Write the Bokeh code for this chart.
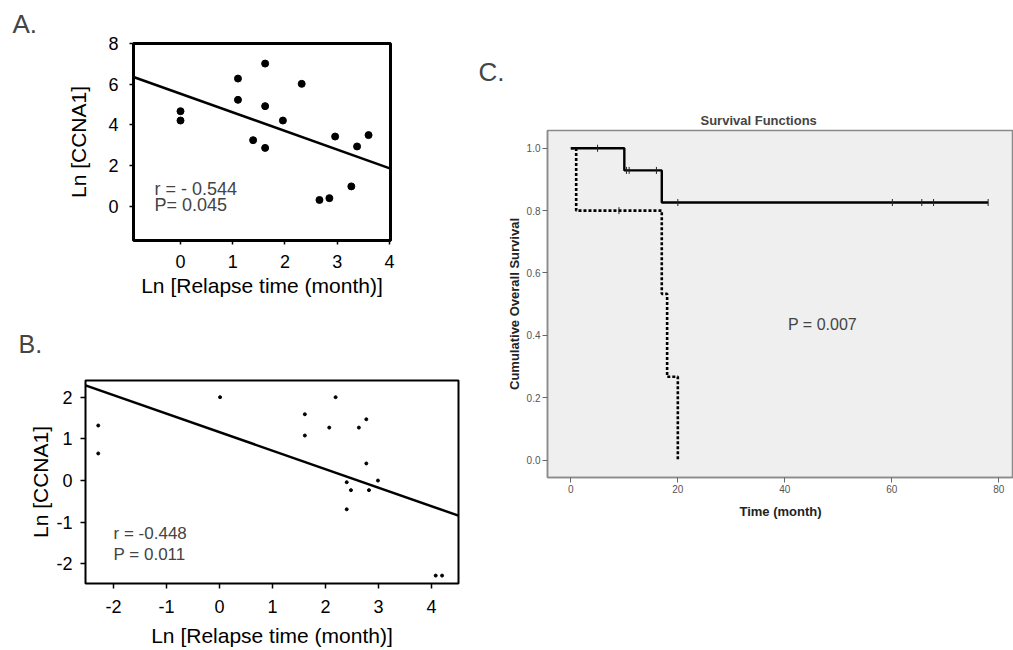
from bokeh.plotting import figure
from bokeh.models import Range1d, FixedTicker, Label, Title
from bokeh.layouts import row, column
from bokeh.embed import file_html
from bokeh.resources import INLINE

# ---------------- data ----------------
# Panel A: Ln relapse time vs Ln CCNA1
a_x = [0.0, 0.0, 1.10, 1.10, 1.62, 1.62, 1.62, 1.39, 1.96, 2.32, 2.66, 2.85, 3.27, 2.96, 3.38, 3.60]
a_y = [4.68, 4.22, 6.29, 5.24, 7.03, 4.93, 2.87, 3.25, 4.22, 6.03, 0.30, 0.39, 0.97, 3.43, 2.94, 3.50]
a_slope = -0.918
a_intercept = 5.54
a_xticks = [0, 1, 2, 3, 4]
a_yticks = [0, 2, 4, 6, 8]
a_stats = ["r = - 0.544", "P= 0.045"]

# Panel B
b_x = [-2.29, -2.29, 0.01, 1.61, 1.61, 2.07, 2.19, 2.63, 2.77, 2.77, 2.40, 2.48, 2.40, 2.99, 2.82, 4.08, 4.20]
b_y = [1.32, 0.65, 2.00, 1.59, 1.08, 1.27, 2.00, 1.27, 1.47, 0.41, -0.04, -0.23, -0.69, 0.00, -0.23, -2.28, -2.28]
b_slope = -0.444
b_intercept = 1.16
b_xticks = [-2, -1, 0, 1, 2, 3, 4]
b_xticklabels = ["-2", "-1", "0", "1", "2", "3", "4"]
b_yticks = [-2, -1, 0, 1, 2]
b_yticklabels = ["-2", "-1", "0", "1", "2"]
b_stats = ["r = -0.448", "P = 0.011"]

# Panel C: Kaplan-Meier survival
km_solid_t = [0, 10, 17, 78]
km_solid_s = [1.0, 0.929, 0.826, 0.826]
km_solid_cens = [5.0, 10.4, 10.9, 16.0, 20.0, 60.1, 65.6, 67.8, 78.0]
km_dash_t = [0, 1, 17, 18, 20]
km_dash_s = [1.0, 0.8, 0.533, 0.267, 0.0]
km_dash_cens = [9.0]
c_xticks = [0, 20, 40, 60, 80]
c_yticks = [0.0, 0.2, 0.4, 0.6, 0.8, 1.0]
c_yticklabels = ["0.0", "0.2", "0.4", "0.6", "0.8", "1.0"]
c_pvalue = "P = 0.007"

FONT = "Liberation Sans"


def step_value(ts, ss, t):
    v = ss[0]
    for ti, si in zip(ts, ss):
        if ti <= t:
            v = si
    return v


def style_axes(p, tick_size, label_size, tick_out, lab_stand, ax_stand_x, ax_stand_y):
    for ax in (p.xaxis[0], p.yaxis[0]):
        ax.major_label_text_font = FONT
        ax.major_label_text_font_size = tick_size
        ax.major_label_text_color = "black"
        ax.axis_label_text_font = FONT
        ax.axis_label_text_font_size = label_size
        ax.axis_label_text_font_style = "normal"
        ax.axis_label_text_color = "black"
        ax.major_tick_out = tick_out
        ax.major_tick_in = 0
        ax.minor_tick_line_color = None
        ax.major_tick_line_color = "black"
        ax.major_tick_line_width = 1.5
        ax.axis_line_color = None
        ax.major_label_standoff = lab_stand
    p.xaxis[0].axis_label_standoff = ax_stand_x
    p.yaxis[0].axis_label_standoff = ax_stand_y


# ---------------- Panel A ----------------
pa = figure(width=478, height=300, output_backend="svg", toolbar_location=None,
            x_range=Range1d(-0.9, 4.02), y_range=Range1d(-1.7, 8.02),
            min_border_left=133, min_border_right=88, min_border_top=43, min_border_bottom=60,
            x_axis_label="Ln [Relapse time (month)]", y_axis_label="Ln [CCNA1]")
pa.frame_align = False
pa.xgrid.visible = False
pa.ygrid.visible = False
pa.outline_line_color = "black"
pa.outline_line_width = 3
pa.xaxis.ticker = FixedTicker(ticks=a_xticks)
pa.yaxis.ticker = FixedTicker(ticks=a_yticks)
style_axes(pa, "18px", "21px", 4, 11, 3, 15)
pa.xaxis.major_label_standoff = 10
x0, x1 = pa.x_range.start, pa.x_range.end
pa.line([x0, x1], [a_intercept + a_slope * x0, a_intercept + a_slope * x1], line_color="black", line_width=2.5)
pa.scatter(a_x, a_y, size=7, color="black")
pa.add_layout(Label(x=-0.5, y=0.84, text=a_stats[0], text_font=FONT, text_font_size="18px", text_baseline="middle"))
pa.add_layout(Label(x=-0.5, y=0.05, text=a_stats[1], text_font=FONT, text_font_size="18px", text_baseline="middle"))
pa.title.text = "A."
pa.title.text_font = FONT
pa.title.text_font_size = "26px"
pa.title.text_font_style = "normal"
pa.title.align = "left"
pa.title.offset = -121
pa.title.standoff = 9

# ---------------- Panel B ----------------
pb = figure(width=478, height=350, output_backend="svg", toolbar_location=None,
            x_range=Range1d(-2.53, 4.51), y_range=Range1d(-2.47, 2.40),
            min_border_left=85, min_border_right=20, min_border_top=80, min_border_bottom=67,
            x_axis_label="Ln [Relapse time (month)]", y_axis_label="Ln [CCNA1]")
pb.frame_align = False
pb.xgrid.visible = False
pb.ygrid.visible = False
pb.outline_line_color = "black"
pb.outline_line_width = 2
pb.xaxis.ticker = FixedTicker(ticks=b_xticks)
pb.yaxis.ticker = FixedTicker(ticks=b_yticks)
pb.xaxis.major_label_overrides = dict(zip(b_xticks, b_xticklabels))
pb.yaxis.major_label_overrides = dict(zip(b_yticks, b_yticklabels))
style_axes(pb, "18px", "21px", 5, 8, 8, 1)
pb.xaxis.major_label_standoff = 11
x0, x1 = pb.x_range.start, pb.x_range.end
pb.line([x0, x1], [b_intercept + b_slope * x0, b_intercept + b_slope * x1], line_color="black", line_width=2.5)
pb.scatter(b_x, b_y, size=3, color="black")
pb.add_layout(Label(x=-2.0, y=-1.27, text=b_stats[0], text_font=FONT, text_font_size="17px", text_baseline="middle"))
pb.add_layout(Label(x=-2.0, y=-1.78, text=b_stats[1], text_font=FONT, text_font_size="17px", text_baseline="middle"))
pb.title.text = "B."
pb.title.text_font = FONT
pb.title.text_font_size = "25px"
pb.title.text_font_style = "normal"
pb.title.align = "left"
pb.title.offset = -67
pb.title.standoff = 45

# ---------------- Panel C ----------------
pc = figure(width=535, height=650, output_backend="svg", toolbar_location=None,
            x_range=Range1d(-4.36, 82.74), y_range=Range1d(-0.056, 1.057),
            min_border_left=69, min_border_right=0, min_border_top=130, min_border_bottom=173,
            x_axis_label="Time (month)", y_axis_label="Cumulative Overall Survival")
pc.frame_align = False
pc.xgrid.visible = False
pc.ygrid.visible = False
pc.background_fill_color = "#efefef"
pc.outline_line_color = "#8a8a8a"
pc.outline_line_width = 1.5
pc.xaxis.ticker = FixedTicker(ticks=c_xticks)
pc.yaxis.ticker = FixedTicker(ticks=c_yticks)
pc.yaxis.major_label_overrides = dict(zip(c_yticks, c_yticklabels))
for ax in (pc.xaxis[0], pc.yaxis[0]):
    ax.major_label_text_font = FONT
    ax.major_label_text_font_size = "10px"
    ax.major_label_text_color = "#555555"
    ax.axis_label_text_font = FONT
    ax.axis_label_text_font_size = "13px"
    ax.axis_label_text_font_style = "bold"
    ax.axis_label_text_color = "#222222"
    ax.major_tick_out = 5
    ax.major_tick_in = 0
    ax.minor_tick_line_color = None
    ax.major_tick_line_color = "#666666"
    ax.axis_line_color = "#8a8a8a"
    ax.axis_line_width = 1.5
pc.xaxis.major_label_standoff = 2
pc.yaxis.major_label_standoff = 2
pc.xaxis.axis_label_standoff = 8
pc.yaxis.axis_label_standoff = 2

pc.step(km_dash_t, km_dash_s, mode="after", line_color="black", line_width=2.6, line_dash="3 2")
pc.step(km_solid_t, km_solid_s, mode="after", line_color="black", line_width=2.4)
pc.scatter(km_solid_cens, [step_value(km_solid_t, km_solid_s, t) for t in km_solid_cens],
           marker="dash", angle=1.5708, size=7, line_color="#222222", line_width=1)
pc.scatter(km_dash_cens, [step_value(km_dash_t, km_dash_s, t) for t in km_dash_cens],
           marker="dash", angle=1.5708, size=7, line_color="#222222", line_width=1)
pc.add_layout(Label(x=40.6, y=0.434, text=c_pvalue, text_font=FONT, text_font_size="16px", text_baseline="middle"))

pc.add_layout(Title(text="Survival Functions", text_font=FONT, text_font_size="13px", text_font_style="bold",
                    align="left", offset=153, standoff=6), "above")
pc.title.text = "C."
pc.title.text_font = FONT
pc.title.text_font_size = "26px"
pc.title.text_font_style = "normal"
pc.title.align = "left"
pc.title.offset = -69
pc.title.standoff = 42

layout = row(column(pa, pb), pc)
open("out.html", "w").write(file_html(layout, INLINE))
